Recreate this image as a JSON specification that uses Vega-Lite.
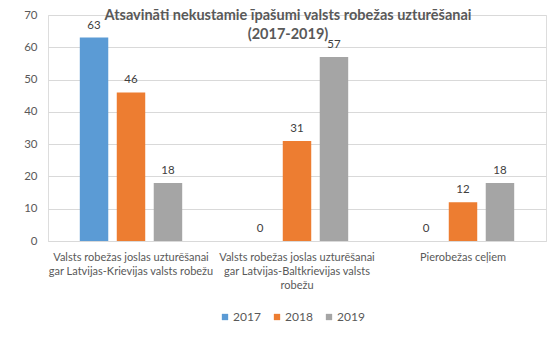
{
  "$schema": "https://vega.github.io/schema/vega-lite/v6.json",
  "width": 498,
  "height": 226,
  "autosize": {"type": "none"},
  "padding": {"left": 48, "top": 15, "right": 12, "bottom": 111},
  "background": "white",
  "title": {
    "text": ["Atsavināti nekustamie īpašumi valsts robežas uzturēšanai", "(2017-2019)"],
    "font": "Lato",
    "fontSize": 14.5,
    "fontWeight": "bold",
    "color": "#595959",
    "anchor": "middle",
    "offset": -33,
    "dx": -9,
    "lineHeight": 19
  },
  "data": {
    "values": [
      {"category": "Valsts robežas joslas uzturēšanai gar Latvijas-Krievijas valsts robežu", "year": "2017", "value": 63},
      {"category": "Valsts robežas joslas uzturēšanai gar Latvijas-Krievijas valsts robežu", "year": "2018", "value": 46},
      {"category": "Valsts robežas joslas uzturēšanai gar Latvijas-Krievijas valsts robežu", "year": "2019", "value": 18},
      {"category": "Valsts robežas joslas uzturēšanai gar Latvijas-Baltkrievijas valsts robežu", "year": "2017", "value": 0},
      {"category": "Valsts robežas joslas uzturēšanai gar Latvijas-Baltkrievijas valsts robežu", "year": "2018", "value": 31},
      {"category": "Valsts robežas joslas uzturēšanai gar Latvijas-Baltkrievijas valsts robežu", "year": "2019", "value": 57},
      {"category": "Pierobežas ceļiem", "year": "2017", "value": 0},
      {"category": "Pierobežas ceļiem", "year": "2018", "value": 12},
      {"category": "Pierobežas ceļiem", "year": "2019", "value": 18}
    ]
  },
  "encoding": {
    "x": {
      "field": "category",
      "type": "nominal",
      "sort": null,
      "scale": {"paddingInner": 0, "paddingOuter": 0},
      "axis": {
        "title": null,
        "labelAngle": 0,
        "ticks": false,
        "tickSize": 0,
        "domainColor": "#D9D9D9",
        "labelPadding": 10,
        "labelFont": "Lato",
        "labelFontSize": 11,
        "labelColor": "#595959",
        "labelLineHeight": 14,
        "labelBaseline": "top",
        "labelLimit": 220,
        "labelExpr": "datum.value == 'Pierobežas ceļiem' ? datum.value : (indexof(datum.value, 'Baltkrievijas') >= 0 ? ['Valsts robežas joslas uzturēšanai', 'gar Latvijas-Baltkrievijas valsts', 'robežu'] : ['Valsts robežas joslas uzturēšanai', 'gar Latvijas-Krievijas valsts robežu'])"
      }
    },
    "xOffset": {
      "field": "year",
      "type": "nominal",
      "scale": {"paddingInner": 0.23, "paddingOuter": 0.86}
    }
  },
  "layer": [
    {
      "mark": {"type": "bar"},
      "encoding": {
        "y": {
          "field": "value",
          "type": "quantitative",
          "scale": {"domain": [0, 70], "nice": false},
          "axis": {
            "title": null,
            "values": [0, 10, 20, 30, 40, 50, 60, 70],
            "tickCount": 8,
            "labelOverlap": false,
            "labelFlush": false,
            "domain": false,
            "ticks": false,
            "tickSize": 0,
            "gridColor": "#D9D9D9",
            "labelPadding": 11,
            "labelFont": "Lato",
            "labelFontSize": 11.5,
            "labelColor": "#595959"
          }
        },
        "color": {
          "field": "year",
          "type": "nominal",
          "scale": {"domain": ["2017", "2018", "2019"], "range": ["#5B9BD5", "#ED7D31", "#A5A5A5"]},
          "legend": {
            "title": null,
            "orient": "none",
            "direction": "horizontal",
            "legendX": 171,
            "legendY": 296,
            "symbolType": "square",
            "symbolSize": 40,
            "symbolStrokeWidth": 0,
            "labelFont": "Lato",
            "labelFontSize": 12,
            "labelColor": "#595959",
            "columnPadding": 10,
            "labelOffset": 2
          }
        }
      }
    },
    {
      "mark": {"type": "text", "baseline": "alphabetic", "dy": -9, "font": "Lato", "fontSize": 11.5, "color": "#404040"},
      "encoding": {
        "y": {"field": "value", "type": "quantitative"},
        "text": {"field": "value", "type": "quantitative"}
      }
    }
  ]
}
